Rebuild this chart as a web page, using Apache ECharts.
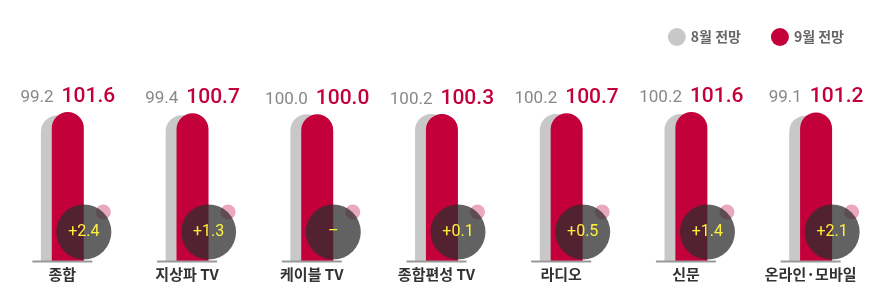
<!DOCTYPE html>
<html><head><meta charset="utf-8">
<script src="https://cdn.jsdelivr.net/npm/echarts@6/dist/echarts.min.js"></script>
<style>html,body{margin:0;padding:0;background:#fff}#c{width:886px;height:308px}</style>
</head><body><div id="c"></div>
<script>
const categories = ['종합', '지상파 TV', '케이블 TV', '종합편성 TV', '라디오', '신문', '온라인·모바일'];
const aug = [99.2, 99.4, 100.0, 100.2, 100.2, 100.2, 99.1];
const sep = [101.6, 100.7, 100.0, 100.3, 100.7, 101.6, 101.2];
const changes = ['+2.4', '+1.3', '–', '+0.1', '+0.5', '+1.4', '+2.1'];

const chart = echarts.init(document.getElementById('c'));
const FONT = 'Roboto, "Noto Sans CJK KR", sans-serif';
chart.setOption({
  animation: false,
  legend: {
    right: 37, top: 23, itemWidth: 18, itemHeight: 18, itemGap: 30, icon: 'circle',
    textStyle: { color: '#666', fontSize: 14, fontWeight: 'bold', fontFamily: '"Noto Sans CJK KR", sans-serif' },
    data: ['8월 전망', '9월 전망']
  },
  grid: { left: -2, right: 13, top: 85, bottom: 47 },
  xAxis: {
    type: 'category', data: categories,
    axisLine: { show: false }, axisTick: { show: false },
    axisLabel: { color: '#333', fontSize: 15, fontWeight: 'bold', margin: 6, fontFamily: '"Noto Sans CJK KR", sans-serif' }
  },
  yAxis: { type: 'value', min: 0, max: 120, show: false, splitLine: { show: false } },
  series: [
    {
      name: '8월 전망', type: 'bar', data: aug, barWidth: 32, barGap: '-66%',
      itemStyle: { color: '#c8c8c8', borderRadius: [16, 16, 0, 0] }
    },
    {
      name: '9월 전망', type: 'bar', data: sep, barWidth: 32,
      itemStyle: { color: '#c4003a', borderRadius: [16, 16, 0, 0] },
      label: {
        show: true, position: 'top', distance: 5,
        formatter: p => '{a|' + aug[p.dataIndex].toFixed(1) + '}{b|' + sep[p.dataIndex].toFixed(1) + '}',
        rich: {
          a: { fontSize: 17, color: '#888', fontFamily: FONT, padding: [2, 8, 0, 0] },
          b: { fontSize: 21, color: '#c4003a', fontFamily: FONT, fontWeight: 500 }
        }
      }
    },
    {
      type: 'custom', name: 'change', z: 5,
      data: changes.map((c, i) => [i, 0]),
      renderItem: (params, api) => {
        const p = api.coord([api.value(0), 0]);
        const cx = p[0], by = p[1];
        return {
          type: 'group',
          children: [
            { type: 'line', shape: { x1: cx - 30, y1: by + 0.5, x2: cx + 30, y2: by + 0.5 }, style: { stroke: '#999', lineWidth: 2 } },
            { type: 'circle', shape: { cx: cx + 41, cy: by - 49, r: 7.5 }, style: { fill: '#e9a8bd' } },
            { type: 'circle', shape: { cx: cx + 21.5, cy: by - 29, r: 27.5 }, style: { fill: 'rgba(45,45,45,0.75)' } },
            { type: 'text', style: { text: changes[params.dataIndex], x: cx + 21.5, y: by - 29, align: 'center', verticalAlign: 'middle', fill: '#fff23a', fontSize: 16, fontFamily: FONT } }
          ]
        };
      }
    }
  ]
});
</script></body></html>
